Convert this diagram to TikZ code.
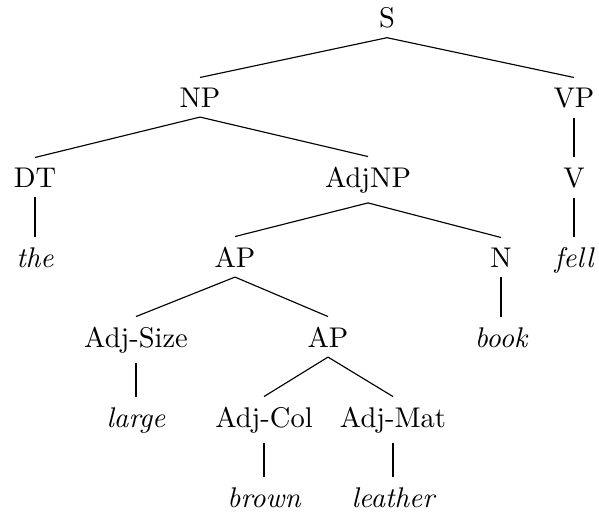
\documentclass[tikz,border=0pt]{standalone}
\begin{document}
\begin{tikzpicture}[x=0.351pt,y=-0.351pt,
  cat/.style={anchor=base},
  leaf/.style={anchor=base,font=\itshape},
  edge/.style={draw,line width=0.4pt}]
\useasboundingbox (0,0) rectangle (599,516);
% row 1
\node[cat] (S) at (387,27) {S};
% row 2
\node[cat] (NP) at (200,107) {NP};
\node[cat] (VP) at (574,107) {VP};
% row 3
\node[cat] (DT) at (35,187) {DT};
\node[cat] (AdjNP) at (368,187) {AdjNP};
\node[cat] (V) at (574,187) {V};
% row 4
\node[leaf] (the) at (35,267) {the};
\node[cat] (AP1) at (235,267) {AP};
\node[cat] (N) at (501,267) {N};
\node[leaf] (fell) at (574,267) {fell};
% row 5
\node[cat] (AdjSize) at (136,347) {Adj-Size};
\node[cat] (AP2) at (328,347) {AP};
\node[leaf] (book) at (501,347) {book};
% row 6
\node[leaf] (large) at (136,427) {large};
\node[cat] (AdjCol) at (264,427) {Adj-Col};
\node[cat] (AdjMat) at (393,427) {Adj-Mat};
% row 7
\node[leaf] (brown) at (264,507) {brown};
\node[leaf] (leather) at (393,507) {leather};
% branches
\foreach \p/\c in {S/NP,S/VP,NP/DT,NP/AdjNP,VP/V,DT/the,AdjNP/AP1,AdjNP/N,
  V/fell,AP1/AdjSize,AP1/AP2,N/book,AdjSize/large,AP2/AdjCol,AP2/AdjMat,
  AdjCol/brown,AdjMat/leather}
  \path[edge] (\p.south) -- (\c.north);
\end{tikzpicture}
\end{document}
